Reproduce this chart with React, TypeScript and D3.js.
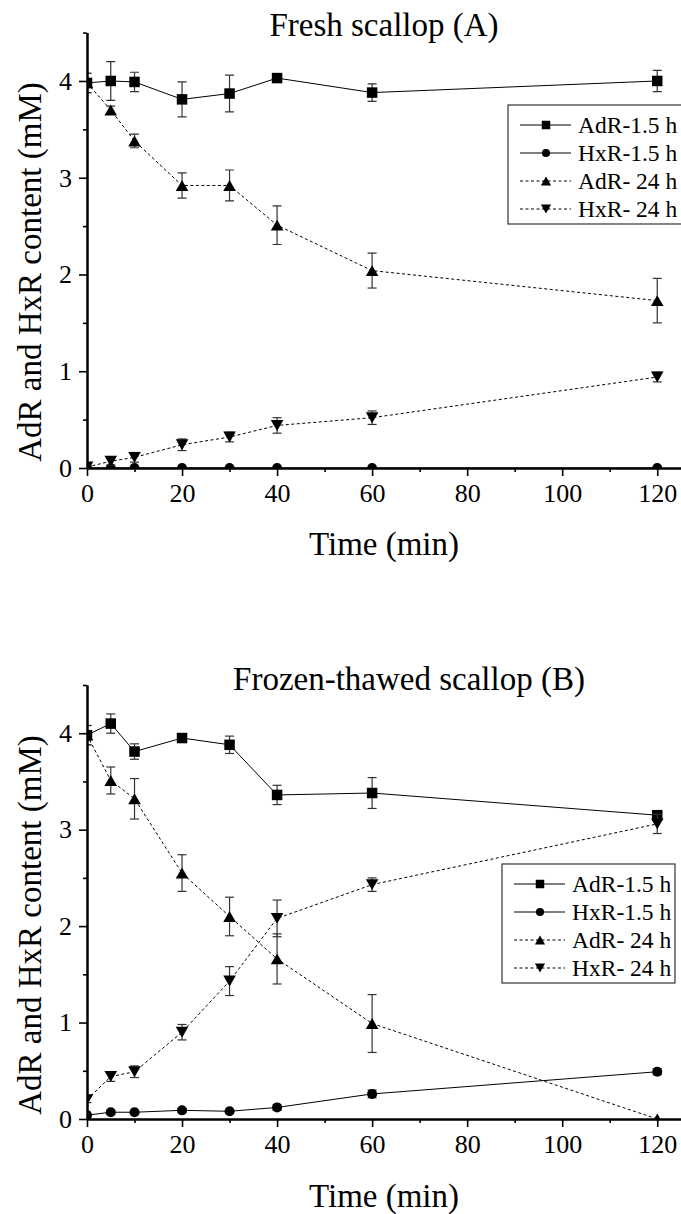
import React, { useRef, useEffect } from "react";
import * as d3 from "d3";

const FONT = "'Liberation Serif', 'Times New Roman', serif";

const times = [0, 5, 10, 20, 30, 40, 60, 120];
const seriesNames = ["AdR-1.5 h", "HxR-1.5 h", "AdR- 24 h", "HxR- 24 h"];
const xTicks = [0, 20, 40, 60, 80, 100, 120];
const xMinorTicks = [10, 30, 50, 70, 90, 110];
const yTicks = [0, 1, 2, 3, 4];
const yMinorTicks = [0.5, 1.5, 2.5, 3.5, 4.5];

// Fresh scallop (A)
const freshAdR15 = [3.98, 4.0, 3.99, 3.81, 3.87, 4.03, 3.88, 4.0];
const freshAdR15Err = [0.1, 0.2, 0.1, 0.18, 0.19, 0.02, 0.09, 0.11];
const freshHxR15 = [0, 0, 0, 0, 0, 0, 0, 0];
const freshHxR15Err = [0, 0, 0, 0, 0, 0, 0, 0];
const freshAdR24 = [3.98, 3.7, 3.38, 2.92, 2.92, 2.51, 2.04, 1.73];
const freshAdR24Err = [0.1, 0.04, 0.07, 0.13, 0.16, 0.2, 0.18, 0.23];
const freshHxR24 = [0.01, 0.07, 0.11, 0.24, 0.32, 0.44, 0.52, 0.94];
const freshHxR24Err = [0.02, 0.04, 0.05, 0.06, 0.05, 0.08, 0.07, 0.05];

// Frozen-thawed scallop (B)
const thawedAdR15 = [3.98, 4.1, 3.81, 3.95, 3.88, 3.36, 3.38, 3.15];
const thawedAdR15Err = [0.1, 0.1, 0.08, 0.03, 0.09, 0.1, 0.16, 0.03];
const thawedHxR15 = [0.04, 0.07, 0.07, 0.09, 0.08, 0.12, 0.26, 0.49];
const thawedHxR15Err = [0.01, 0.02, 0.02, 0.02, 0.02, 0.03, 0.04, 0.03];
const thawedAdR24 = [3.98, 3.51, 3.32, 2.55, 2.1, 1.66, 0.99, 0.0];
const thawedAdR24Err = [0.1, 0.14, 0.21, 0.19, 0.2, 0.26, 0.3, 0.01];
const thawedHxR24 = [0.2, 0.44, 0.49, 0.9, 1.43, 2.08, 2.43, 3.06];
const thawedHxR24Err = [0.03, 0.05, 0.06, 0.08, 0.15, 0.19, 0.07, 0.1];

const markers = ["square", "circle", "up", "down"];
const dashed = [false, false, true, true];

const panels = [
  {
    title: "Fresh scallop (A)",
    titleX: 384,
    titleY: 36,
    top: 32.6,
    bottom: 468,
    yLabelY: 272,
    xLabelY: 555,
    legend: { x: 508, y: 105, w: 180 },
    values: [freshAdR15, freshHxR15, freshAdR24, freshHxR24],
    errors: [freshAdR15Err, freshHxR15Err, freshAdR24Err, freshHxR24Err],
  },
  {
    title: "Frozen-thawed scallop (B)",
    titleX: 409,
    titleY: 690,
    top: 685,
    bottom: 1119,
    yLabelY: 925,
    xLabelY: 1207,
    legend: { x: 502, y: 864, w: 173 },
    values: [thawedAdR15, thawedHxR15, thawedAdR24, thawedHxR24],
    errors: [thawedAdR15Err, thawedHxR15Err, thawedAdR24Err, thawedHxR24Err],
  },
];

// draws one marker centred on (cx, cy)
function drawMarker(g, type, cx, cy, s) {
  if (type === "circle") {
    g.append("circle").attr("cx", cx).attr("cy", cy).attr("r", s * 0.48).attr("fill", "#000");
  } else if (type === "square") {
    const h = s / 2;
    g.append("rect").attr("x", cx - h).attr("y", cy - h).attr("width", s).attr("height", s).attr("fill", "#000");
  } else {
    const w = s * 0.6;
    const h = s * 0.52;
    const pts =
      type === "up"
        ? [[cx, cy - h], [cx + w, cy + h], [cx - w, cy + h]]
        : [[cx, cy + h], [cx + w, cy - h], [cx - w, cy - h]];
    g.append("path").attr("d", "M" + pts.map((p) => p.join(",")).join("L") + "Z").attr("fill", "#000");
  }
}

function drawPanel(svg, p, idx) {
  const x = d3.scaleLinear().domain([0, 125]).range([87, 681]);
  const y = d3.scaleLinear().domain([0, 4.5]).range([p.bottom, p.top]);

  const clipId = `clip-${idx}`;
  svg
    .append("clipPath")
    .attr("id", clipId)
    .append("rect")
    .attr("x", x(0))
    .attr("y", y(4.5))
    .attr("width", x(125) - x(0))
    .attr("height", y(0) - y(4.5));

  const plot = svg.append("g").attr("clip-path", `url(#${clipId})`);
  const line = d3
    .line()
    .x((_, i) => x(times[i]))
    .y((d) => y(d));

  p.values.forEach((vals, k) => {
    const sg = plot.append("g");
    sg.append("path")
      .attr("d", line(vals))
      .attr("fill", "none")
      .attr("stroke", "#000")
      .attr("stroke-width", 1)
      .attr("stroke-dasharray", dashed[k] ? "3,2.5" : null);

    // error bars
    const eb = sg.append("g").attr("stroke", "#333").attr("stroke-width", 1.2);
    vals.forEach((v, i) => {
      const e = p.errors[k][i];
      if (e < 0.015) return;
      const cx = x(times[i]);
      eb.append("line").attr("x1", cx).attr("x2", cx).attr("y1", y(v + e)).attr("y2", y(v - e));
      [v + e, v - e].forEach((yy) =>
        eb.append("line").attr("x1", cx - 4.5).attr("x2", cx + 4.5).attr("y1", y(yy)).attr("y2", y(yy))
      );
    });

    vals.forEach((v, i) => drawMarker(sg, markers[k], x(times[i]), y(v), 10.5));
  });

  // axes
  const styleAxis = (g) => {
    g.attr("font-family", FONT).attr("font-size", 26);
    g.selectAll(".domain").attr("stroke", "#000").attr("stroke-width", 2);
    g.selectAll(".tick line").attr("stroke", "#000").attr("stroke-width", 1.6);
    g.selectAll(".tick text")
      .attr("fill", "#000")
      .style("font-family", FONT)
      .style("font-size", "26px");
  };

  svg
    .append("g")
    .attr("transform", `translate(0,${y(0)})`)
    .call(d3.axisBottom(x).tickValues(xMinorTicks).tickSize(4).tickSizeOuter(0).tickFormat(() => ""))
    .call(styleAxis);
  svg
    .append("g")
    .attr("transform", `translate(0,${y(0)})`)
    .call(d3.axisBottom(x).tickValues(xTicks).tickSize(8).tickSizeOuter(0).tickPadding(8).tickFormat(d3.format("d")))
    .call(styleAxis);

  svg
    .append("g")
    .attr("transform", `translate(${x(0)},0)`)
    .call(d3.axisLeft(y).tickValues(yMinorTicks).tickSize(4).tickSizeOuter(0).tickFormat(() => ""))
    .call(styleAxis);
  svg
    .append("g")
    .attr("transform", `translate(${x(0)},0)`)
    .call(d3.axisLeft(y).tickValues(yTicks).tickSize(8).tickSizeOuter(0).tickPadding(7).tickFormat(d3.format("d")))
    .call(styleAxis);

  // titles
  svg
    .append("text")
    .attr("x", p.titleX)
    .attr("y", p.titleY)
    .attr("text-anchor", "middle")
    .attr("font-family", FONT)
    .attr("font-size", 33)
    .text(p.title);

  svg
    .append("text")
    .attr("x", 384)
    .attr("y", p.xLabelY)
    .attr("text-anchor", "middle")
    .attr("font-family", FONT)
    .attr("font-size", 33)
    .text("Time (min)");

  svg
    .append("text")
    .attr("transform", `translate(41,${p.yLabelY}) rotate(-90)`)
    .attr("text-anchor", "middle")
    .attr("font-family", FONT)
    .attr("font-size", 33)
    .text("AdR and HxR content (mM)");

  // legend
  const lg = svg.append("g").attr("transform", `translate(${p.legend.x},${p.legend.y})`);
  lg.append("rect")
    .attr("width", p.legend.w)
    .attr("height", 119)
    .attr("fill", "#fff")
    .attr("stroke", "#333")
    .attr("stroke-width", 1.2);
  seriesNames.forEach((name, k) => {
    const cy = 20 + k * 28;
    lg.append("line")
      .attr("x1", 12)
      .attr("x2", 63)
      .attr("y1", cy)
      .attr("y2", cy)
      .attr("stroke", "#000")
      .attr("stroke-width", 1)
      .attr("stroke-dasharray", dashed[k] ? "3,2.5" : null);
    drawMarker(lg, markers[k], 38, cy, 8.5);
    lg.append("text")
      .attr("x", 70)
      .attr("y", cy)
      .attr("dy", "0.35em")
      .attr("font-family", FONT)
      .attr("font-size", 23.5)
      .text(name);
  });
}

export default function App() {
  const svgRef = useRef(null);

  useEffect(() => {
    const svg = d3.select(svgRef.current);
    svg.selectAll("*").remove();
    panels.forEach((p, i) => drawPanel(svg, p, i));
  }, []);

  return (
    <svg
      ref={svgRef}
      width={681}
      height={1214}
      style={{ position: "absolute", left: 0, top: 0, background: "#fff" }}
    />
  );
}
